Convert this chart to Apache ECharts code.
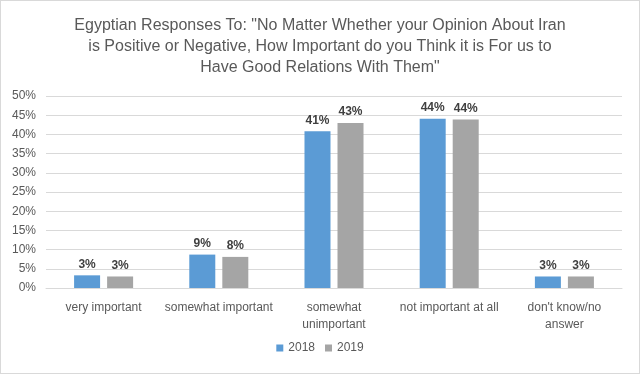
<!DOCTYPE html>
<html><head><meta charset="utf-8">
<script src="https://cdn.jsdelivr.net/npm/echarts@6/dist/echarts.min.js"></script>
<style>html,body{margin:0;padding:0;background:#fff}#c{width:640px;height:374px;box-sizing:border-box;border:1px solid #d9d9d9}</style>
</head><body><div id="c"></div>
<script>
var titleText = 'Egyptian Responses To: "No Matter Whether your Opinion About Iran\nis Positive or Negative, How Important do you Think it is For us to\nHave Good Relations With Them"';
var categories = ['very important', 'somewhat important', 'somewhat\nunimportant', 'not important at all', "don't know/no\nanswer"];
var seriesNames = ['2018', '2019'];
var values2018 = [3.3, 8.7, 40.8, 44.1, 3.0];
var values2019 = [3.0, 8.1, 43.0, 43.9, 3.0];
var yTicks = [0, 5, 10, 15, 20, 25, 30, 35, 40, 45, 50];

var chart = echarts.init(document.getElementById('c'), null, {renderer: 'canvas'});
var font = 'Liberation Sans';
var labelCfg = {show: true, position: 'top', distance: 5, color: '#404040', fontWeight: 'bold', fontSize: 12, fontFamily: font,
  formatter: function (p) { return Math.round(p.value) + '%'; }};
chart.setOption({
  animation: false,
  title: {text: titleText, left: 'center', top: 9,
    textStyle: {fontFamily: font, fontSize: 16, fontWeight: 'normal', color: '#595959', lineHeight: 21}},
  grid: {left: 45, right: 17, top: 95, bottom: 85, containLabel: false},
  legend: {data: seriesNames, bottom: 14, left: 'center', itemWidth: 7, itemHeight: 7, itemGap: 10,
    textStyle: {fontFamily: font, fontSize: 12, color: '#595959'}, icon: 'rect'},
  xAxis: {type: 'category', data: categories,
    axisLine: {lineStyle: {color: '#d9d9d9'}}, axisTick: {show: false},
    axisLabel: {fontFamily: font, fontSize: 12, color: '#595959', margin: 11, lineHeight: 17, interval: 0}},
  yAxis: {type: 'value', min: yTicks[0], max: yTicks[yTicks.length - 1], interval: 5,
    axisLine: {show: false}, axisTick: {show: false},
    splitLine: {lineStyle: {color: '#d9d9d9'}},
    axisLabel: {fontFamily: font, fontSize: 12, color: '#595959', margin: 10, formatter: '{value}%'}},
  series: [
    {name: seriesNames[0], type: 'bar', data: values2018, barWidth: 26, barGap: '27%', itemStyle: {color: '#5b9bd5'}, label: labelCfg},
    {name: seriesNames[1], type: 'bar', data: values2019, barWidth: 26, barGap: '27%', itemStyle: {color: '#a5a5a5'}, label: labelCfg}
  ]
});
</script></body></html>
